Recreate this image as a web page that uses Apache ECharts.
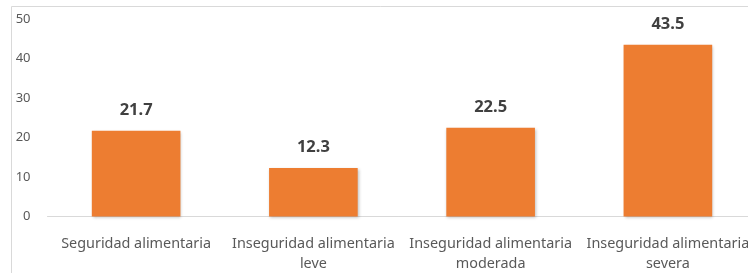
<!DOCTYPE html>
<html><head><meta charset="utf-8">
<script src="https://cdn.jsdelivr.net/npm/echarts@6/dist/echarts.min.js"></script>
<style>html,body{margin:0;padding:0;background:#fff}#c{width:748px;height:273px}</style>
</head><body><div id="c"></div>
<script>
const categories = ['Seguridad alimentaria', 'Inseguridad alimentaria\nleve', 'Inseguridad alimentaria\nmoderada', 'Inseguridad alimentaria\nsevera'];
const values = [21.7, 12.3, 22.5, 43.5];
const yTicks = [0, 10, 20, 30, 40, 50];

const chart = echarts.init(document.getElementById('c'));
chart.setOption({
  animation: false,
  graphic: [{type: 'rect', shape: {x: 11.5, y: 6.5, width: 800, height: 400}, style: {fill: 'none', stroke: '#d9d9d9', lineWidth: 1}, z: -1}],
  grid: {left: 47.5, width: 709, top: 19, height: 197.5, containLabel: false, outerBoundsMode: 'none'},
  xAxis: {
    type: 'category', data: categories,
    axisLine: {lineStyle: {color: '#d9d9d9'}},
    axisTick: {show: false},
    axisLabel: {color: '#595959', fontFamily: 'Noto Sans', fontSize: 14.4, lineHeight: 20, margin: 17, interval: 0}
  },
  yAxis: {
    type: 'value', min: yTicks[0], max: yTicks[yTicks.length - 1], interval: 10,
    splitLine: {show: false}, axisLine: {show: false}, axisTick: {show: false},
    axisLabel: {color: '#595959', fontFamily: 'Noto Sans', fontSize: 13, margin: 17}
  },
  series: [{
    type: 'bar', data: values, barWidth: '50%',
    itemStyle: {color: '#ed7d31', shadowColor: 'rgba(0,0,0,0.25)', shadowBlur: 3, shadowOffsetX: 1, shadowOffsetY: 1},
    label: {show: true, position: 'top', distance: 12, color: '#404040', fontFamily: 'Noto Sans', fontWeight: 'bold', fontSize: 16.5, formatter: p => p.value.toFixed(1)}
  }]
});
</script></body></html>
